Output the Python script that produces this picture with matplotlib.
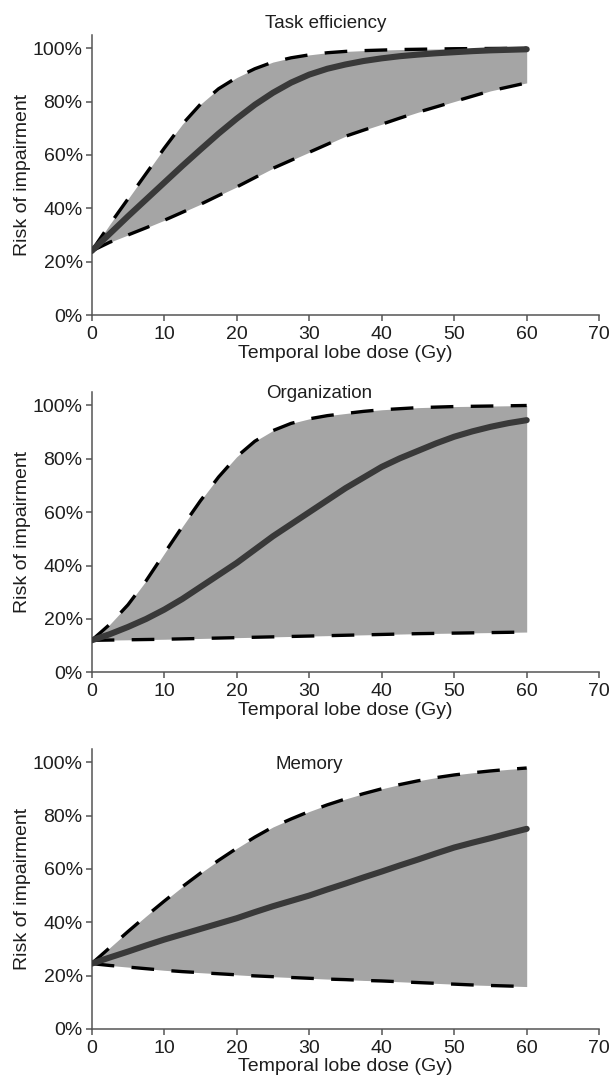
import numpy as np
import matplotlib
matplotlib.use("Agg")
import matplotlib.pyplot as plt
from matplotlib.ticker import PercentFormatter

plt.rcParams['font.family'] = ['Liberation Sans', 'DejaVu Sans']

# dose grid (Gy), every 2.5 Gy
dose = [0, 2.5, 5, 7.5, 10, 12.5, 15, 17.5, 20, 22.5, 25, 27.5, 30,
        32.5, 35, 37.5, 40, 42.5, 45, 47.5, 50, 52.5, 55, 57.5, 60]

# risk of impairment (%)
task_mid = [24, 30.5, 37, 43.3, 49.6, 55.9, 62, 68, 73.6, 78.8, 83.3, 87.1, 90.1,
            92.3, 93.9, 95.2, 96.2, 97, 97.6, 98.1, 98.5, 98.9, 99.2, 99.4, 99.6]
task_hi = [24, 34, 43.5, 53, 62.5, 71.5, 79, 84.8, 89, 92.3, 94.8, 96.4, 97.5,
           98.3, 98.8, 99.1, 99.3, 99.5, 99.6, 99.7, 99.8, 99.85, 99.9, 99.95, 100]
task_lo = [24, 27.3, 30, 32.7, 35.5, 38.5, 41.5, 44.8, 48, 51.5, 55, 58, 61,
           64, 67, 69.3, 71.5, 73.8, 76, 78, 80, 82, 84, 85.5, 87]

org_mid = [12, 14.3, 17, 20, 23.5, 27.5, 32, 36.5, 41, 46, 51, 55.5, 60,
           64.5, 69, 73, 77, 80.2, 83, 85.8, 88.3, 90.3, 92, 93.4, 94.5]
org_hi = [12, 18, 25.3, 34.3, 44.5, 54.6, 64.3, 73.2, 80.8, 86.6, 90.6, 93.3, 95,
          96.2, 97, 97.8, 98.4, 98.8, 99.2, 99.4, 99.6, 99.7, 99.8, 99.9, 100]
org_lo = [12, 12.1, 12.2, 12.3, 12.4, 12.55, 12.7, 12.85, 13, 13.15, 13.3, 13.45, 13.6,
          13.75, 13.9, 14.05, 14.2, 14.35, 14.5, 14.6, 14.7, 14.8, 14.9, 15, 15.1]

mem_mid = [24.5, 26.8, 29, 31.3, 33.5, 35.5, 37.5, 39.5, 41.5, 43.8, 46, 48, 50,
           52.3, 54.5, 56.8, 59, 61.3, 63.5, 65.8, 68, 69.8, 71.5, 73.3, 75]
mem_hi = [24.5, 30.5, 36.5, 42.3, 47.9, 53.3, 58.4, 63.2, 67.7, 71.9, 75.7, 78.7, 81.5,
          84, 86.2, 88.2, 90, 91.6, 93, 94.2, 95.2, 96, 96.7, 97.3, 97.8]
mem_lo = [24.5, 23.8, 23.2, 22.6, 22, 21.5, 21.1, 20.7, 20.3, 19.9, 19.6, 19.3, 19,
          18.7, 18.5, 18.2, 18, 17.7, 17.4, 17.1, 16.8, 16.5, 16.3, 16.1, 15.9]

titles = ["Task efficiency", "Organization", "Memory"]
title_pos = [(32.3, 109.4), (31.4, 104.6), (30, 99.2)]
xticks = [0, 10, 20, 30, 40, 50, 60, 70]
yticks = [0, 20, 40, 60, 80, 100]

panels = [(task_mid, task_hi, task_lo),
          (org_mid, org_hi, org_lo),
          (mem_mid, mem_hi, mem_lo)]
bottoms = [0.7099, 0.3809, 0.0525]

fig = plt.figure(figsize=(6.15, 10.86), dpi=100)
txt = '#1e1e1e'
axc = '#555555'

for i, (mid, hi, lo) in enumerate(panels):
    ax = fig.add_axes([0.1491, bottoms[i], 0.8252, 0.258])
    ax.fill_between(dose, lo, hi, color='#a5a5a5', linewidth=0, zorder=1)
    for band in (hi, lo):
        ax.plot(dose, band, color='black', lw=2.4, dashes=(6.8, 5.2),
                dash_joinstyle='round', zorder=2)
    ax.plot(dose, mid, color='#393939', lw=4.4, solid_capstyle='round',
            solid_joinstyle='round', zorder=3)

    ax.set_xlim(0, 70)
    ax.set_ylim(0, 105)
    ax.set_xticks(xticks)
    ax.set_yticks(yticks)
    ax.yaxis.set_major_formatter(PercentFormatter(decimals=0))
    for s in ['top', 'right']:
        ax.spines[s].set_visible(False)
    for s in ['left', 'bottom']:
        ax.spines[s].set_color(axc)
        ax.spines[s].set_linewidth(1.1)
    ax.tick_params(axis='both', direction='out', length=4, width=1.1,
                   color=axc, labelcolor=txt, labelsize=14)
    ax.tick_params(axis='x', pad=4)
    ax.tick_params(axis='y', pad=2.5)
    ax.set_xlabel("Temporal lobe dose (Gy)", fontsize=14, color=txt, labelpad=1)
    ax.set_ylabel("Risk of impairment", fontsize=14, color=txt, labelpad=1)
    ax.text(title_pos[i][0], title_pos[i][1], titles[i], ha='center', va='center',
            fontsize=13.5, color=txt, clip_on=False)

fig.savefig("out.png", dpi=100)
